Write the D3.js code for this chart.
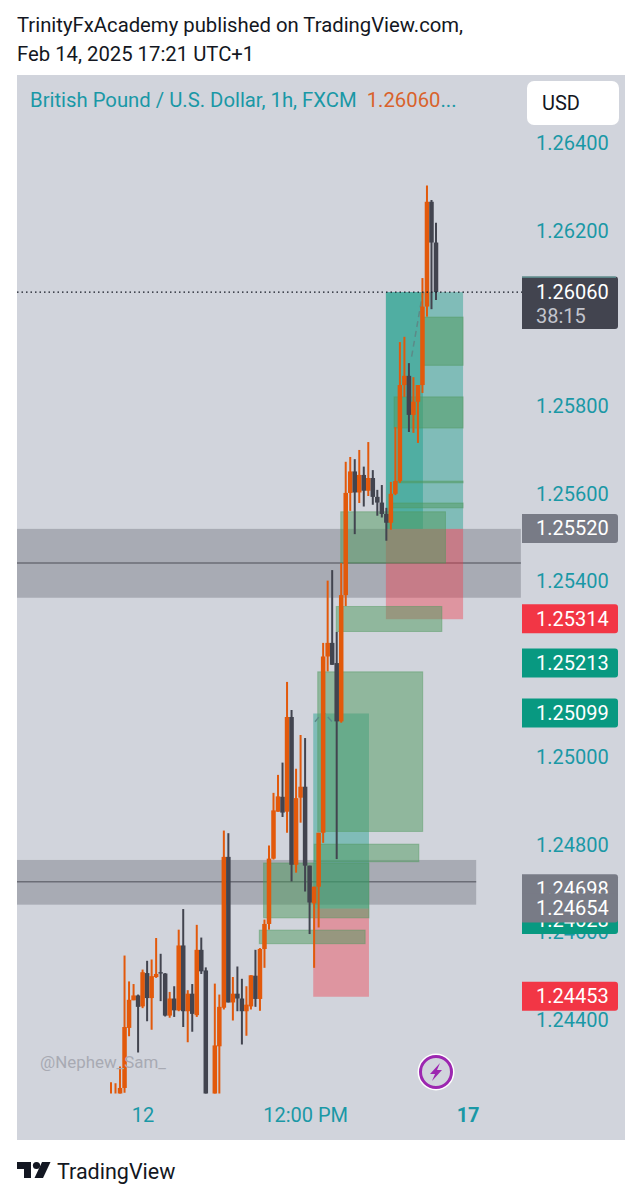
<!DOCTYPE html>
<html>
<head>
<meta charset="utf-8">
<title>GBPUSD</title>
<script src="https://cdn.jsdelivr.net/npm/d3@7"></script>
<style>
  body { margin: 0; background: #ffffff; }
  svg { display: block; }
  text { font-family: Roboto, sans-serif; }
</style>
</head>
<body>
<div id="chart"></div>
<script>
//candle values, one entry per hour
const candleOpen = [1.24220,1.24220,1.24220,1.24245,1.24382,1.24445,1.24456,1.24431,1.24507,1.24450,
  1.24498,1.24509,1.24506,1.24410,1.24449,1.24422,1.24570,1.24420,1.24460,1.24411,
  1.24560,1.24513,1.24220,1.24200,1.24340,1.24428,1.24772,1.24440,1.24460,1.24449,
  1.24420,1.24431,1.24501,1.24448,1.24562,1.24619,1.24768,1.24875,1.24909,1.24875,
  1.25091,1.24754,1.24907,1.24932,1.24752,1.24666,1.24704,1.24827,1.25229,1.25260,
  1.25214,1.25081,1.25369,1.25602,1.25651,1.25603,1.25643,1.25607,1.25636,1.25593,
  1.25580,1.25554,1.25534,1.25600,1.25629,1.25848,1.25869,1.25780,1.25810,1.25848,
  1.26027,1.26266,1.26173];
const candleHigh = [1.24258,1.24256,1.24294,1.24547,1.24488,1.24482,1.24458,1.24515,1.24535,1.24538,
  1.24587,1.24551,1.24507,1.24464,1.24477,1.24606,1.24653,1.24468,1.24482,1.24617,
  1.24588,1.24520,1.24225,1.24483,1.24458,1.24832,1.24826,1.24498,1.24522,1.24494,
  1.24477,1.24502,1.24560,1.24564,1.24629,1.24798,1.24918,1.24959,1.24987,1.25171,
  1.25107,1.24973,1.25050,1.25043,1.24752,1.24704,1.24827,1.25260,1.25402,1.25426,
  1.25285,1.25442,1.25673,1.25684,1.25679,1.25700,1.25662,1.25718,1.25654,1.25609,
  1.25620,1.25568,1.25627,1.25752,1.25946,1.25958,1.25898,1.25866,1.25848,1.26092,
  1.26303,1.26270,1.26218];
const candleLow = [1.24200,1.24200,1.24200,1.24234,1.24363,1.24445,1.24326,1.24427,1.24397,1.24378,
  1.24496,1.24443,1.24408,1.24405,1.24407,1.24420,1.24384,1.24349,1.24373,1.24407,
  1.24505,1.24190,1.24190,1.24190,1.24200,1.24424,1.24440,1.24399,1.24420,1.24344,
  1.24364,1.24424,1.24430,1.24421,1.24519,1.24606,1.24766,1.24875,1.24863,1.24827,
  1.24716,1.24736,1.24850,1.24693,1.24596,1.24519,1.24611,1.24804,1.25195,1.25210,
  1.24767,1.25078,1.25344,1.25561,1.25508,1.25579,1.25571,1.25595,1.25575,1.25550,
  1.25546,1.25493,1.25518,1.25597,1.25625,1.25821,1.25741,1.25739,1.25716,1.25830,
  1.26004,1.26021,1.26042];
const candleClose = [1.24225,1.24225,1.24245,1.24384,1.24446,1.24456,1.24430,1.24509,1.24450,1.24500,
  1.24505,1.24506,1.24410,1.24449,1.24422,1.24570,1.24420,1.24460,1.24414,1.24560,
  1.24511,1.24200,1.24200,1.24342,1.24430,1.24772,1.24440,1.24460,1.24449,1.24420,
  1.24435,1.24502,1.24448,1.24562,1.24619,1.24768,1.24878,1.24910,1.24873,1.25091,
  1.24754,1.24906,1.24932,1.24752,1.24668,1.24704,1.24827,1.25229,1.25260,1.25210,
  1.25081,1.25369,1.25602,1.25651,1.25603,1.25643,1.25607,1.25636,1.25593,1.25580,
  1.25554,1.25534,1.25600,1.25629,1.25848,1.25869,1.25780,1.25810,1.25848,1.26027,
  1.26266,1.26173,1.26060];

//right axis
const priceTicks = [1.264, 1.262, 1.26, 1.258, 1.256, 1.254, 1.252, 1.25, 1.248, 1.246, 1.244];

//time axis
const timeTickIndex = [7, 43, 79];
const timeTickLabels = ["12", "12:00 PM", "17"];

//grey horizontal zones: start, end, top, bottom, middle line
const bandStart = [-21, -21];
const bandEnd = [90.8, 80.9];
const bandTop = [1.25520, 1.24765];
const bandBottom = [1.25363, 1.24663];
const bandMiddle = [1.25442, 1.24715];

//long position boxes
const tealStart = [60.9, 60.9, 44.8];
const tealEnd = [78, 69.1, 57.15];
const tealTop = [1.26060, 1.26060, 1.25099];
const tealBottom = [1.25520, 1.25520, 1.24654];
const redStart = [60.9, 44.8];
const redEnd = [78, 57.15];
const redTop = [1.25520, 1.24654];
const redBottom = [1.25314, 1.24453];

//green boxes
const greenStart = [69.1, 62.7, 63.1, 62.25, 50.9, 49.9, 45.8, 45, 33.8, 32.85];
const greenEnd = [78, 78, 78, 78, 74.1, 73.3, 69.05, 68.2, 57.15, 56.3];
const greenTop = [1.26003, 1.25821, 1.25629, 1.25579, 1.25559, 1.25343, 1.25194, 1.24801, 1.24758, 1.24605];
const greenBottom = [1.25893, 1.25750, 1.25625, 1.25568, 1.25442, 1.25286, 1.24830, 1.24761, 1.24633, 1.24574];

//dashed arrows inside the position boxes
const arrowIndex = [[66.6, 68.1, 69.1], [45.2, 47, 49]];
const arrowPrice = [[1.25913, 1.26001, 1.26060], [1.25080, 1.25103, 1.25080]];

//price labels on the right, drawn in this order
const labelValues = [1.25520, 1.25314, 1.25213, 1.25099, 1.24628, 1.24698, 1.24654, 1.24453];
const labelColors = ["#787b86", "#f23645", "#089981", "#089981", "#089981", "#787b86", "#787b86", "#f23645"];

const lastPrice = 1.26060;
const countdown = "38:15";

const width = 642;
const height = 1200;
const candleColor = { up: "#e2590b", down: "#42444f" };
const tealText = "#1a98a6";

const svg = d3.select("#chart").append("svg")
  .attr("width", width)
  .attr("height", height);

const xScale = d3.scaleLinear().domain([0, 72]).range([111, 436]);
const yScale = d3.scaleLinear().domain([1.264, 1.244]).range([143, 1020]);
const candleWidth = xScale(1) - xScale(0);

//header
svg.append("text").attr("x", 17).attr("y", 32).attr("font-size", 20.3).attr("fill", "#131722")
  .text("TrinityFxAcademy published on TradingView.com,");
svg.append("text").attr("x", 17).attr("y", 61).attr("font-size", 20.3).attr("fill", "#131722")
  .text("Feb 14, 2025 17:21 UTC+1");

//chart panel
svg.append("rect").attr("x", 17).attr("y", 75).attr("width", 608).attr("height", 1065).attr("fill", "#d1d4dc");

svg.append("defs").append("clipPath").attr("id", "plot")
  .append("rect").attr("x", 17).attr("y", 75).attr("width", 504).attr("height", 1018.5);

const plot = svg.append("g").attr("clip-path", "url(#plot)");

//grey zones
plot.selectAll(".band").data(d3.range(bandStart.length)).enter().append("rect")
  .attr("class", "band")
  .attr("x", i => xScale(bandStart[i]))
  .attr("width", i => xScale(bandEnd[i]) - xScale(bandStart[i]))
  .attr("y", i => yScale(bandTop[i]))
  .attr("height", i => yScale(bandBottom[i]) - yScale(bandTop[i]))
  .attr("fill", "#787b86").attr("fill-opacity", 0.46);
plot.selectAll(".bandline").data(d3.range(bandStart.length)).enter().append("line")
  .attr("class", "bandline")
  .attr("x1", i => xScale(bandStart[i]))
  .attr("x2", i => xScale(bandEnd[i]))
  .attr("y1", i => yScale(bandMiddle[i]))
  .attr("y2", i => yScale(bandMiddle[i]))
  .attr("stroke", "#6b6d76").attr("stroke-width", 1.5);

//position boxes
plot.selectAll(".teal").data(d3.range(tealStart.length)).enter().append("rect")
  .attr("class", "teal")
  .attr("x", i => xScale(tealStart[i]))
  .attr("width", i => xScale(tealEnd[i]) - xScale(tealStart[i]))
  .attr("y", i => yScale(tealTop[i]))
  .attr("height", i => yScale(tealBottom[i]) - yScale(tealTop[i]))
  .attr("fill", "#089981").attr("fill-opacity", 0.4);
plot.selectAll(".red").data(d3.range(redStart.length)).enter().append("rect")
  .attr("class", "red")
  .attr("x", i => xScale(redStart[i]))
  .attr("width", i => xScale(redEnd[i]) - xScale(redStart[i]))
  .attr("y", i => yScale(redTop[i]))
  .attr("height", i => yScale(redBottom[i]) - yScale(redTop[i]))
  .attr("fill", "#f23645").attr("fill-opacity", 0.4);

//green boxes
plot.selectAll(".green").data(d3.range(greenStart.length)).enter().append("rect")
  .attr("class", "green")
  .attr("x", i => xScale(greenStart[i]))
  .attr("width", i => xScale(greenEnd[i]) - xScale(greenStart[i]))
  .attr("y", i => yScale(greenTop[i]))
  .attr("height", i => yScale(greenBottom[i]) - yScale(greenTop[i]))
  .attr("fill", "#4f9a5e").attr("fill-opacity", 0.5)
  .attr("stroke", "#4f9a5e").attr("stroke-opacity", 0.45);

//last price dotted line
svg.append("line")
  .attr("x1", 17).attr("x2", 522)
  .attr("y1", yScale(lastPrice)).attr("y2", yScale(lastPrice))
  .attr("stroke", "#131722").attr("stroke-width", 1.2).attr("stroke-dasharray", "1.5 3");

//dashed arrows
const arrowLine = d3.line().x(d => xScale(d[0])).y(d => yScale(d[1]));
arrowIndex.forEach(function (xs, n) {
  plot.append("path")
    .attr("d", arrowLine(xs.map((v, i) => [v, arrowPrice[n][i]])))
    .attr("fill", "none").attr("stroke", "#5c8a88").attr("stroke-width", 1.5)
    .attr("stroke-dasharray", "6 4");
});

//candles
const candles = candleOpen.map((o, i) => ({
  i: i, open: o, high: candleHigh[i], low: candleLow[i], close: candleClose[i]
}));
const candle = plot.selectAll(".candle").data(candles).enter().append("g").attr("class", "candle");
candle.append("line")
  .attr("x1", d => xScale(d.i)).attr("x2", d => xScale(d.i))
  .attr("y1", d => yScale(d.high)).attr("y2", d => yScale(d.low))
  .attr("stroke", d => d.close >= d.open ? candleColor.up : candleColor.down)
  .attr("stroke-width", 2);
candle.append("rect")
  .attr("x", d => xScale(d.i) - candleWidth / 2)
  .attr("width", candleWidth)
  .attr("y", d => yScale(Math.max(d.open, d.close)))
  .attr("height", d => Math.max(1, Math.abs(yScale(d.open) - yScale(d.close))))
  .attr("fill", d => d.close >= d.open ? candleColor.up : candleColor.down);

//price axis
const axisY = d3.axisRight(yScale)
  .tickValues(priceTicks)
  .tickSize(0)
  .tickPadding(0)
  .tickFormat(d3.format(".5f"));
const axisYg = svg.append("g").attr("transform", "translate(536,0)").call(axisY);
axisYg.select(".domain").remove();
axisYg.selectAll("text").attr("font-size", 20).attr("font-family", "Roboto, sans-serif").attr("fill", tealText);

//time axis
const axisX = d3.axisBottom(xScale)
  .tickValues(timeTickIndex)
  .tickSize(0)
  .tickPadding(0)
  .tickFormat((d, i) => timeTickLabels[i]);
const axisXg = svg.append("g").attr("transform", "translate(0,1108)").call(axisX);
axisXg.select(".domain").remove();
axisXg.selectAll("text").attr("font-size", 20).attr("font-family", "Roboto, sans-serif").attr("fill", tealText)
  .attr("font-weight", (d, i) => i == 2 ? 700 : 400);

//price labels
function labelBox(y, color) {
  svg.append("path")
    .attr("d", "M522 " + (y - 14.5) + "H615a3 3 0 0 1 3 3V" + (y + 11.5) + "a3 3 0 0 1 -3 3H522Z")
    .attr("fill", color);
}
labelValues.forEach(function (v, i) {
  const y = yScale(v) - 0.5;
  labelBox(y, labelColors[i]);
  svg.append("text").attr("x", 536).attr("y", y + 7).attr("font-size", 20).attr("fill", "#ffffff")
    .text(d3.format(".5f")(v));
});

//current price label with countdown
const lastY = yScale(lastPrice);
svg.append("path")
  .attr("d", "M522 " + (lastY - 15.5) + "H615a3 3 0 0 1 3 3V" + (lastY + 34) + "a3 3 0 0 1 -3 3H522Z")
  .attr("fill", "#42444f");
svg.append("line").attr("x1", 522).attr("x2", 616).attr("y1", lastY - 15).attr("y2", lastY - 15)
  .attr("stroke", "#6fb5b0").attr("stroke-width", 1);
svg.append("text").attr("x", 536).attr("y", lastY + 7).attr("font-size", 20).attr("fill", "#ffffff")
  .text(d3.format(".5f")(lastPrice));
svg.append("text").attr("x", 536).attr("y", lastY + 31).attr("font-size", 20).attr("fill", "#c3c5cd")
  .text(countdown);

//title on the panel
const title = svg.append("text").attr("x", 30).attr("y", 107).attr("font-size", 20.3);
title.append("tspan").attr("fill", tealText).text("British Pound / U.S. Dollar, 1h, FXCM");
title.append("tspan").attr("fill", "#d9622b").attr("dx", 10).text("1.26060");
title.append("tspan").attr("fill", tealText).text("...");

//currency button
svg.append("rect").attr("x", 527).attr("y", 81).attr("width", 92).attr("height", 44).attr("rx", 7).attr("fill", "#ffffff");
svg.append("text").attr("x", 542).attr("y", 110).attr("font-size", 20).attr("fill", "#131722").text("USD");

//watermark
svg.append("text").attr("x", 40).attr("y", 1068).attr("font-size", 16.9).attr("fill", "#a8aab3").text("@Nephew_Sam_");

//bolt icon
const icon = svg.append("g").attr("transform", "translate(436,1072)");
icon.append("circle").attr("r", 18.5).attr("fill", "#ffffff");
icon.append("circle").attr("r", 15.5).attr("fill", "#d1d4dc").attr("stroke", "#9c27b0").attr("stroke-width", 3);
icon.append("path").attr("d", "M4 -9 L-6 2 H-1 L-4 9 L6 -2 H1 Z").attr("fill", "#9c27b0");

//footer logo
svg.append("path").attr("d", "M17 1162 H31 V1178 H24 V1169 H17 Z").attr("fill", "#131722");
svg.append("circle").attr("cx", 36.5).attr("cy", 1165.5).attr("r", 3.6).attr("fill", "#131722");
svg.append("path").attr("d", "M42 1162 H50.5 L43 1178 H34.5 Z").attr("fill", "#131722");
svg.append("text").attr("x", 57).attr("y", 1179).attr("font-size", 21.5).attr("fill", "#131722").text("TradingView");
</script>
</body>
</html>
